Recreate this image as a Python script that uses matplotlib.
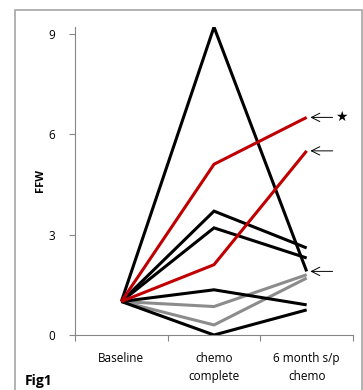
import matplotlib
matplotlib.use("Agg")
import matplotlib.pyplot as plt
from matplotlib.patches import Rectangle

categories = ["Baseline", "chemo\ncomplete", "6 month s/p\nchemo"]
yticks = [0, 3, 6, 9]

# FFW per patient at each time point
patients = [
    [1.0, 9.2, 1.9],
    [1.0, 5.1, 6.5],
    [1.0, 2.1, 5.5],
    [1.0, 3.7, 2.6],
    [1.0, 3.2, 2.3],
    [1.0, 1.35, 0.9],
    [1.0, 0.85, 1.8],
    [1.0, 0.3, 1.7],
    [1.0, 0.0, 0.75],
]
line_colors = ["black", "#c00000", "#c00000", "black", "black",
               "black", "#8c8c8c", "#8c8c8c", "black"]

# arrows point at these end values, first one gets a star
arrow_vals = [6.5, 5.5, 1.9]
star_val = 6.5

plt.rcParams["font.family"] = ["Open Sans", "DejaVu Sans"]

fig = plt.figure(figsize=(3.63, 3.90), dpi=100)
ax = fig.add_axes([75/363, 55/390, 278/363, 308/390])

# gray frame around the whole chart
fig.patches.append(Rectangle((15/363, -0.1), 346.5/363, 1.0 - 10/390 + 0.1,
                             transform=fig.transFigure, fill=False,
                             edgecolor="#a6a6a6", lw=1.2))

xs = range(len(categories))
# gray lines drawn first so black/red lie on top like the original
order = [6, 7, 0, 3, 4, 5, 8, 2, 1]
for i in order:
    ax.plot(xs, patients[i], color=line_colors[i], lw=2.2,
            solid_joinstyle="miter", solid_capstyle="butt")

for v in arrow_vals:
    ax.annotate("", xy=(2.04, v), xytext=(2.28, v),
                arrowprops=dict(arrowstyle="->", lw=0.7, color="black",
                                mutation_scale=15, shrinkA=0, shrinkB=0))
ax.text(2.37, star_val, "\u2605", ha="center", va="center", fontsize=10,
        family="DejaVu Sans")

ax.set_xlim(-0.5, 2.5)
ax.set_ylim(0, 9.2)
ax.set_yticks(yticks)
ax.set_yticklabels([str(t) for t in yticks], fontsize=8.5)
ax.set_xticks(list(xs))
ax.set_xticklabels(categories, fontsize=8.5, linespacing=1.5, va="top")
ax.set_xticks([-0.5, 0.5, 1.5, 2.5], minor=True)
ax.tick_params(axis="x", which="major", length=0, pad=12)
ax.tick_params(axis="x", which="minor", length=4, color="#868686", width=0.8)
ax.tick_params(axis="y", length=4, color="#868686", width=0.8, pad=10)

for s in ["top", "right"]:
    ax.spines[s].set_visible(False)
for s in ["left", "bottom"]:
    ax.spines[s].set_color("#868686")
    ax.spines[s].set_linewidth(0.8)

ax.set_ylabel("FFW", fontsize=8, fontweight="bold", labelpad=2)
fig.text(25/363, 1 - 381/390, "Fig1", fontsize=10, fontweight="bold",
         va="center", ha="left")

fig.savefig("out.png", dpi=100)
